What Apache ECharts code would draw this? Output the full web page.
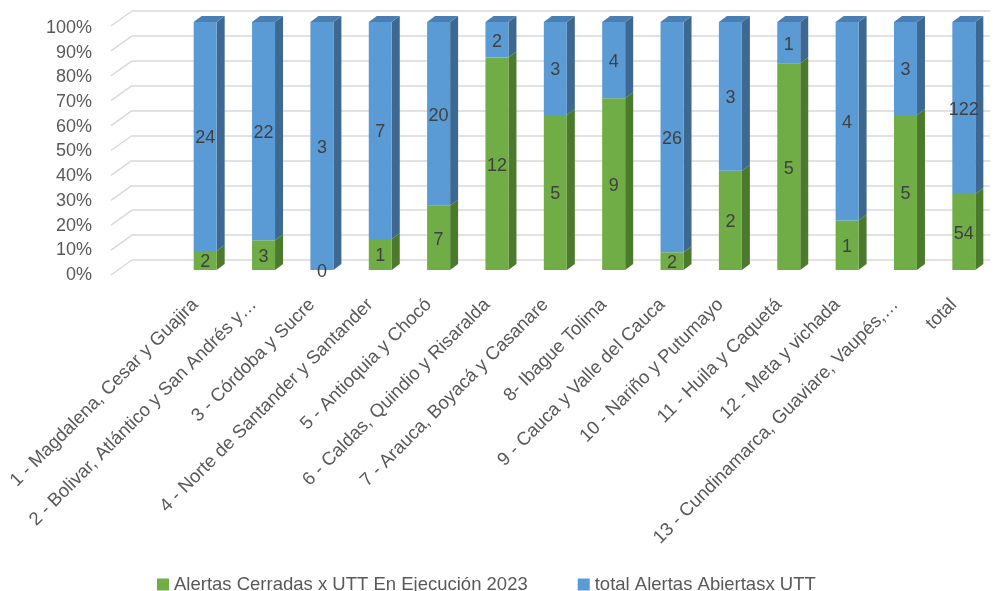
<!DOCTYPE html>
<html>
<head>
<meta charset="utf-8">
<style>
  html, body { margin: 0; padding: 0; background: #fff; }
  #chart { width: 995px; height: 591px; }
</style>
<script src="https://cdn.jsdelivr.net/npm/echarts@6/dist/echarts.min.js"></script>
</head>
<body>
<div id="chart"></div>
<script>
// categorías (UTT)
const categories = [
  '1 - Magdalena, Cesar y Guajira',
  '2 - Bolivar, Atlántico y San Andrés y…',
  '3 - Córdoba y Sucre',
  '4 - Norte de Santander y Santander',
  '5 - Antioquia y Chocó',
  '6 - Caldas, Quindio y Risaralda',
  '7 - Arauca, Boyacá y Casanare',
  '8- Ibague Tolima',
  '9 - Cauca y Valle del Cauca',
  '10 - Nariño y Putumayo',
  '11 - Huila y Caquetá',
  '12 - Meta y vichada',
  '13 - Cundinamarca, Guaviare, Vaupés,…',
  'total'
]
const closedAlerts = [2, 3, 0, 1, 7, 12, 5, 9, 2, 2, 5, 1, 5, 54]
const openAlerts = [24, 22, 3, 7, 20, 2, 3, 4, 26, 3, 1, 4, 3, 122]
const yTicks = [0, 10, 20, 30, 40, 50, 60, 70, 80, 90, 100]

const closedName = 'Alertas Cerradas x UTT En Ejecución 2023'
const openName = 'total Alertas Abiertasx UTT'

const FONT = 'Liberation Sans'
const BAR_W = 23
const DEPTH_X = 8
const DEPTH_Y = 6

// porcentaje apilado al 100%
const closedData = closedAlerts.map((c, i) => {
  const share = (c / (c + openAlerts[i])) * 100
  return [i, 0, share, c]
})
const openData = openAlerts.map((o, i) => {
  const share = (closedAlerts[i] / (closedAlerts[i] + o)) * 100
  return [i, share, 100, o]
})

const makeBarRenderer = (front, side, top, isTop) => (params, api) => {
  const i = api.value(0)
  const p0 = api.coord([i, api.value(1)])
  const p1 = api.coord([i, api.value(2)])
  const xl = p0[0] - BAR_W / 2
  const xr = p0[0] + BAR_W / 2
  const yb = p0[1]
  const yt = p1[1]
  const children = [
    {
      type: 'polygon',
      shape: { points: [[xr, yb], [xr + DEPTH_X, yb - DEPTH_Y], [xr + DEPTH_X, yt - DEPTH_Y], [xr, yt]] },
      style: { fill: side }
    },
    {
      type: 'rect',
      shape: { x: xl, y: yt, width: BAR_W, height: yb - yt },
      style: { fill: front }
    }
  ]
  if (isTop) {
    children.push({
      type: 'polygon',
      shape: { points: [[xl, yt], [xl + DEPTH_X, yt - DEPTH_Y], [xr + DEPTH_X, yt - DEPTH_Y], [xr, yt]] },
      style: { fill: top }
    })
  }
  children.push({
    type: 'text',
    z2: 100,
    style: {
      text: String(api.value(3)),
      x: p0[0],
      y: (yb + yt) / 2 + 2,
      align: 'center',
      verticalAlign: 'middle',
      fill: '#404040',
      font: '18px "' + FONT + '"'
    }
  })
  return { type: 'group', children }
}

const chart = echarts.init(document.getElementById('chart'))

chart.setOption({
  animation: false,
  textStyle: { fontFamily: FONT },
  legend: {
    data: [closedName, openName],
    left: 152,
    top: 570,
    itemGap: 50,
    itemWidth: 12,
    itemHeight: 12,
    icon: 'rect',
    textStyle: { fontSize: 18.5, color: '#595959', fontFamily: FONT }
  },
  grid: [
    // pared del fondo
    { left: 132, right: 5, top: 11, bottom: 331 },
    // plano frontal (etiquetas)
    { left: 111, right: 5, top: 28, bottom: 316 },
    // barras
    { left: 176, right: 2, top: 22, bottom: 321 }
  ],
  xAxis: [
    { gridIndex: 0, type: 'value', min: 0, max: 1, show: false },
    { gridIndex: 1, type: 'value', min: 0, max: 1, show: false },
    {
      gridIndex: 2,
      type: 'category',
      data: categories,
      axisLine: { show: false },
      axisTick: { show: false },
      axisLabel: {
        interval: 0,
        rotate: 45,
        margin: 22,
        padding: [0, 14, 0, 0],
        fontSize: 18.5,
        color: '#595959',
        fontFamily: FONT
      }
    }
  ],
  yAxis: [
    {
      gridIndex: 0,
      type: 'value',
      min: 0,
      max: 100,
      interval: 10,
      axisLabel: { show: false },
      axisLine: { show: false },
      axisTick: { show: false },
      splitLine: { lineStyle: { color: '#d9d9d9', width: 1.5 } }
    },
    {
      gridIndex: 1,
      type: 'value',
      min: 0,
      max: 100,
      interval: 10,
      axisLine: { show: false },
      axisTick: { show: false },
      splitLine: { show: false },
      axisLabel: {
        margin: 19,
        fontSize: 18,
        color: '#595959',
        fontFamily: FONT,
        formatter: '{value}%'
      }
    },
    { gridIndex: 2, type: 'value', min: 0, max: 100, show: false }
  ],
  series: [
    {
      // diagonales de la pared
      type: 'custom',
      xAxisIndex: 0,
      yAxisIndex: 0,
      silent: true,
      data: yTicks.map((v) => [0, v]),
      renderItem: (params, api) => {
        const p = api.coord([0, api.value(1)])
        return {
          type: 'line',
          shape: { x1: p[0], y1: p[1], x2: p[0] - 21, y2: p[1] + 15 },
          style: { stroke: '#d9d9d9', lineWidth: 1.5 }
        }
      }
    },
    {
      name: closedName,
      type: 'custom',
      xAxisIndex: 2,
      yAxisIndex: 2,
      itemStyle: { color: '#70ad47' },
      data: closedData,
      renderItem: makeBarRenderer('#70ad47', '#4b7a2c', '#5e9339', false)
    },
    {
      name: openName,
      type: 'custom',
      xAxisIndex: 2,
      yAxisIndex: 2,
      itemStyle: { color: '#5b9bd5' },
      data: openData,
      renderItem: makeBarRenderer('#5b9bd5', '#3d6891', '#4a7fb3', true)
    }
  ]
})

window.addEventListener('resize', () => chart.resize())
</script>
</body>
</html>
